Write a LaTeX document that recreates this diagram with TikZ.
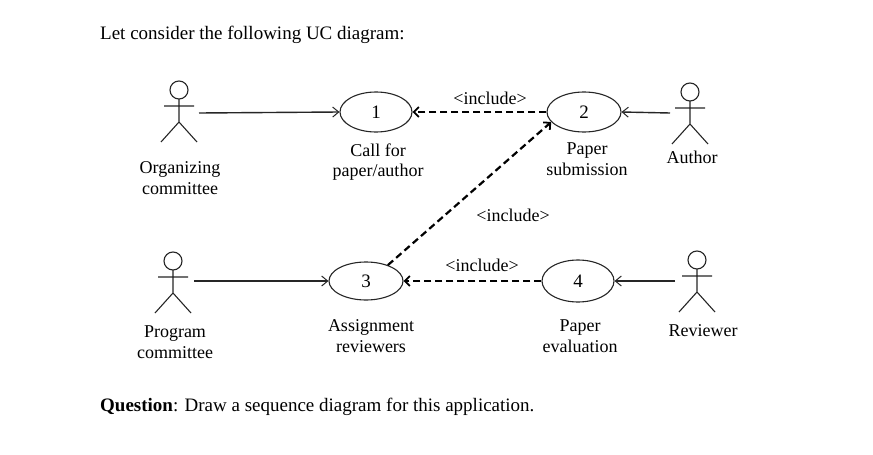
\documentclass[tikz,border=0pt]{standalone}
\usepackage{fontspec}
\setmainfont{Liberation Serif}
\usetikzlibrary{arrows.meta,shapes.geometric}
\tikzset{
  uc/.style={draw=black!85, line width=1.1pt, ellipse, inner sep=0pt},
  lbl/.style={align=center, font=\fontsize{18}{20.5}\selectfont, inner sep=0pt},
  num/.style={font=\fontsize{19}{20}\selectfont},
  assoc/.style={line width=1.4pt, draw=black!85, -{Straight Barb[length=6pt,width=10pt,line width=1pt]}},
  incl/.style={line width=2.2pt, dash pattern=on 7pt off 4pt, -{Straight Barb[length=5pt,width=10pt,line width=1.8pt]}},
  actor/.pic={
    \draw[line width=1.1pt, black!85] (0,0) circle (9)
      (0,9) -- (0,32) (-15,16) -- (15,16)
      (-18,52) -- (0,32) -- (18,52);
  }
}
\begin{document}
\begin{tikzpicture}[x=1pt,y=-1pt]
\useasboundingbox[fill=white] (0,0) rectangle (873,455);
% texts
\node[anchor=base west, font=\fontsize{19}{22}\selectfont, inner sep=0pt] (title) at (100,39) {Let consider the following UC diagram:};
\node[anchor=base west, font=\fontsize{19}{22}\selectfont, inner sep=0pt] (question) at (100,411) {\textbf{Question}: Draw a sequence diagram for this application.};
% actors
\pic at (179,90) {actor};
\pic at (690,92) {actor};
\pic at (173,261) {actor};
\pic at (697,260) {actor};
\coordinate (a1) at (199,113);
\coordinate (a2) at (670,113);
\coordinate (a3) at (194,281);
\coordinate (a4) at (675,281);
% use cases
\node[uc, minimum width=72pt, minimum height=40pt, num] (e1) at (376,112) {1};
\node[uc, minimum width=74pt, minimum height=40pt, num] (e2) at (584,112) {2};
\node[uc, minimum width=74pt, minimum height=38pt, num] (e3) at (366,281) {3};
\node[uc, minimum width=72pt, minimum height=42pt, num] (e4) at (578,281) {4};
% labels
\node[lbl] (l1) at (180,178) {Organizing\\committee};
\node[lbl] (l2) at (378,162) {Call for\\paper/author};
\node[lbl] (l3) at (587,159) {Paper\\submission};
\node[lbl] (l4) at (692,157) {Author};
\node[lbl] (l5) at (175,342) {Program\\committee};
\node[lbl] (l6) at (371,336) {Assignment\\reviewers};
\node[lbl] (l7) at (580,336) {Paper\\evaluation};
\node[lbl] (l8) at (703,331) {Reviewer};
% connectors
\draw[assoc] (a1) -- (e1.west);
\draw[assoc] (a2) -- (e2.east);
\draw[assoc] (a3) -- (e3.west);
\draw[assoc] (a4) -- (e4.east);
\draw[incl] (e2.west) -- (e1.east);
\draw[incl] (e4.west) -- (e3.east);
\draw[incl] (e3.36) -- (e2.197);
\node[lbl] (i1) at (490,98) {\textless include\textgreater};
\node[lbl] (i2) at (513,215) {\textless include\textgreater};
\node[lbl] (i3) at (482,265) {\textless include\textgreater};
\end{tikzpicture}
\end{document}
